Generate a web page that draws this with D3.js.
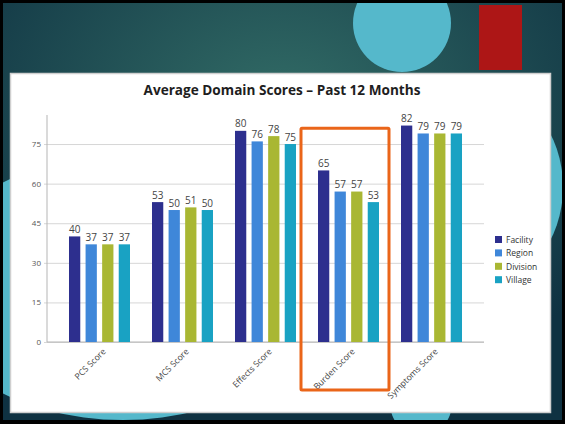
<!DOCTYPE html>
<html>
<head>
<meta charset="utf-8">
<script src="https://cdn.jsdelivr.net/npm/d3@7"></script>
<style>
  html, body { margin: 0; padding: 0; background: #000; }
  svg { display: block; }
</style>
</head>
<body>
<div id="slide"></div>
<script>
// chart data
var categories = ["PCS Score", "MCS Score", "Effects Score", "Burden Score", "Symptoms Score"];
var seriesNames = ["Facility", "Region", "Division", "Village"];
var facility = [40, 53, 80, 65, 82];
var region = [37, 50, 76, 57, 79];
var division = [37, 51, 78, 57, 79];
var village = [37, 50, 75, 53, 79];
var yTicks = [0, 15, 30, 45, 60, 75];
var highlighted = "Burden Score";

var seriesValues = [facility, region, division, village];
var colors = ["#2d2f8e", "#3f87d9", "#a9b733", "#19a2c3"];

var W = 565, H = 424;

var svg = d3.select("#slide").append("svg")
  .attr("width", W)
  .attr("height", H);

// slide background
var defs = svg.append("defs");
var grad = defs.append("radialGradient")
  .attr("id", "bg")
  .attr("cx", "50%").attr("cy", "25%").attr("r", "70%");
grad.append("stop").attr("offset", "0%").attr("stop-color", "#326c66");
grad.append("stop").attr("offset", "100%").attr("stop-color", "#0f3242");

svg.append("rect").attr("width", W).attr("height", H).attr("fill", "#000");
svg.append("rect")
  .attr("x", 3).attr("y", 3)
  .attr("width", W - 6).attr("height", H - 7)
  .attr("fill", "url(#bg)");

var deco = svg.append("g").attr("clip-path", "url(#slideClip)");
defs.append("clipPath").attr("id", "slideClip")
  .append("rect").attr("x", 3).attr("y", 3).attr("width", W - 6).attr("height", H - 7);

deco.append("circle").attr("cx", 402).attr("cy", 23).attr("r", 49).attr("fill", "#55b8cb");
deco.append("ellipse").attr("cx", 123).attr("cy", 288).attr("rx", 200).attr("ry", 132).attr("fill", "#55b8cb");
deco.append("ellipse").attr("cx", 481).attr("cy", 187).attr("rx", 82).attr("ry", 100).attr("fill", "#55b8cb");
deco.append("circle").attr("cx", 421).attr("cy", 404).attr("r", 31).attr("fill", "#55b8cb");
deco.append("rect").attr("x", 479).attr("y", 5).attr("width", 43).attr("height", 65).attr("fill", "#ad1616");

// white chart panel
svg.append("rect")
  .attr("x", 10.5).attr("y", 73.5)
  .attr("width", 540).attr("height", 339)
  .attr("fill", "#fff")
  .attr("stroke", "#cfcfcf")
  .attr("stroke-width", 1.5);

var plot = { left: 47, right: 484, top: 115, bottom: 342 };

var y = d3.scaleLinear()
  .domain([0, 86])
  .range([plot.bottom, plot.top]);

var x0 = d3.scaleBand()
  .domain(categories)
  .range([plot.left, plot.right])
  .padding(0.265);

var x1 = d3.scaleBand()
  .domain(seriesNames)
  .range([0, x0.bandwidth()])
  .paddingInner(0.32);

var font = "'Open Sans', 'DejaVu Sans', sans-serif";

svg.append("text")
  .attr("x", 282)
  .attr("y", 95)
  .attr("text-anchor", "middle")
  .attr("font-family", font)
  .attr("font-weight", "bold")
  .attr("font-size", 13.6)
  .attr("fill", "#1e1e1e")
  .text("Average Domain Scores \u2013 Past 12 Months");

// grid lines + y axis
var yAxis = d3.axisLeft(y)
  .tickValues(yTicks)
  .tickSize(-(plot.right - plot.left))
  .tickPadding(6);

var gy = svg.append("g")
  .attr("transform", "translate(" + plot.left + ",0)")
  .call(yAxis);
gy.select(".domain").remove();
gy.selectAll(".tick line")
  .attr("stroke", "#d6d6d6")
  .attr("x1", -3);
gy.selectAll(".tick text")
  .attr("font-family", font)
  .attr("font-size", 8)
  .attr("fill", "#555");

svg.append("line")
  .attr("x1", plot.left).attr("x2", plot.left)
  .attr("y1", plot.top).attr("y2", plot.bottom)
  .attr("stroke", "#b5b5b5");
svg.append("line")
  .attr("x1", plot.left).attr("x2", plot.right)
  .attr("y1", plot.bottom).attr("y2", plot.bottom)
  .attr("stroke", "#b5b5b5");

// bars
var groups = svg.selectAll("g.cat")
  .data(categories)
  .enter().append("g")
  .attr("class", "cat")
  .attr("transform", function(c) { return "translate(" + x0(c) + ",0)"; });

groups.selectAll("rect")
  .data(function(c, ci) {
    return seriesNames.map(function(s, si) { return { s: s, v: seriesValues[si][ci], i: si }; });
  })
  .enter().append("rect")
  .attr("x", function(d) { return x1(d.s); })
  .attr("y", function(d) { return y(d.v); })
  .attr("width", x1.bandwidth())
  .attr("height", function(d) { return y(0) - y(d.v); })
  .attr("fill", function(d) { return colors[d.i]; });

groups.selectAll("text")
  .data(function(c, ci) {
    return seriesNames.map(function(s, si) { return { s: s, v: seriesValues[si][ci] }; });
  })
  .enter().append("text")
  .attr("x", function(d) { return x1(d.s) + x1.bandwidth() / 2; })
  .attr("y", function(d) { return y(d.v) - 3.5; })
  .attr("text-anchor", "middle")
  .attr("font-family", font)
  .attr("font-size", 10)
  .attr("fill", "#444")
  .text(function(d) { return d.v; });

// rotated category labels
svg.selectAll("text.xlab")
  .data(categories)
  .enter().append("text")
  .attr("class", "xlab")
  .attr("text-anchor", "end")
  .attr("font-family", font)
  .attr("font-size", 8.6)
  .attr("fill", "#444")
  .attr("transform", function(c) {
    return "translate(" + (x0(c) + x0.bandwidth() / 2 + 7) + "," + 352 + ") rotate(-45)";
  })
  .text(function(c) { return c; });

// legend
var legend = svg.append("g").attr("transform", "translate(495,236)");
seriesNames.forEach(function(s, i) {
  legend.append("rect")
    .attr("x", 0).attr("y", i * 13.4)
    .attr("width", 7).attr("height", 7)
    .attr("fill", colors[i]);
  legend.append("text")
    .attr("x", 11).attr("y", i * 13.4 + 7)
    .attr("font-family", font)
    .attr("font-size", 8.5)
    .attr("fill", "#333")
    .text(s);
});

// orange highlight box round the burden group
svg.append("rect")
  .attr("x", x0(highlighted) - 17)
  .attr("y", y(81))
  .attr("width", x0.bandwidth() + 27)
  .attr("height", 390 - y(81))
  .attr("fill", "none")
  .attr("stroke", "#ea6519")
  .attr("stroke-width", 3)
  .attr("rx", 1);
</script>
</body>
</html>
